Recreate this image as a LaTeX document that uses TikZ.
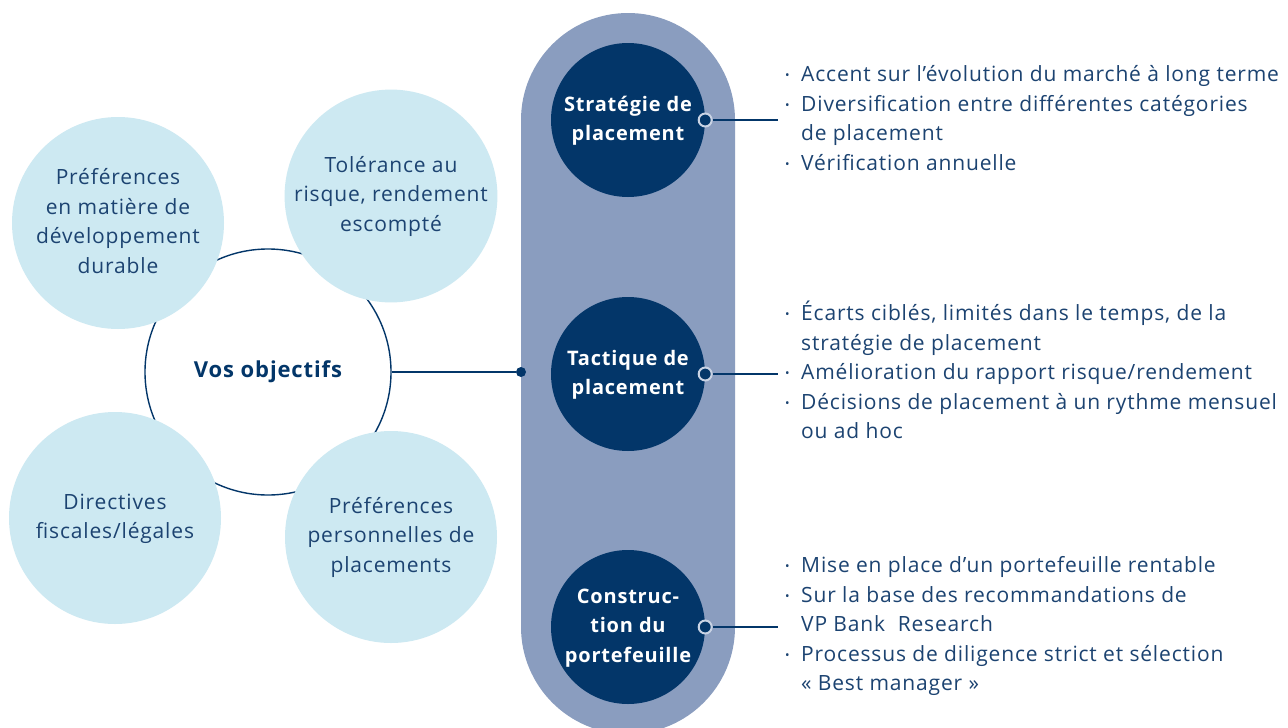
\documentclass[tikz,border=0pt]{standalone}
\usepackage{fontspec}
\setmainfont{Open Sans}[LetterSpace=4]
\definecolor{pill}{HTML}{8A9DBF}
\definecolor{dark}{HTML}{033669}
\definecolor{light}{HTML}{CDE9F2}
\definecolor{txt}{HTML}{1C4371}
\definecolor{ring}{HTML}{C9D3E4}
\newcommand\bl{\makebox[16pt][l]{\raisebox{2pt}{\fontsize{12}{12}\selectfont •}}}
\newcommand\ind{\hspace*{16pt}}
\begin{document}
\begin{tikzpicture}[x=1pt,y=-1pt,
  lightc/.style={circle,fill=light,minimum size=212pt,inner sep=0pt,align=center,text=txt,font=\fontsize{21}{29.5}\selectfont},
  darkc/.style={circle,fill=dark,minimum size=154pt,inner sep=0pt,align=center,text=white,font=\fontsize{20}{29.5}\selectfont\bfseries},
  marker/.style={circle,fill=dark,draw=ring,line width=2pt,minimum size=13pt,inner sep=0pt},
  conn/.style={draw=dark,line width=1.4pt},
  bullets/.style={anchor=north west,align=left,inner sep=0pt,text=txt,font=\fontsize{21}{29.5}\selectfont}]
\useasboundingbox (0,0) rectangle (1288,728);
\fill[white] (0,0) rectangle (1288,728);
% pill
\fill[pill,rounded corners=107pt] (521,13) rectangle (735,734);
% central objective circle
\node[circle,draw=dark,line width=1.4pt,minimum size=246pt,inner sep=0pt,text=dark,font=\fontsize{22}{29.5}\selectfont\bfseries] (vos) at (268,372) {\strut Vos objectifs\strut};
% light circles
\node[lightc] (c1) at (118,223) {\strut Préférences\\en matière de\\développement\\durable\strut};
\node[lightc] (c2) at (391,196) {\strut Tolérance au\\risque, rendement\\escompté\strut};
\node[lightc] (c3) at (115,518) {\strut Directives\\fiscales/légales\strut};
\node[lightc] (c4) at (391,537) {\strut Préférences\\personnelles de\\placements\strut};
% dark circles
\node[darkc] (s1) at (628,120) {\strut Stratégie de\\placement\strut};
\node[darkc] (s2) at (628,374) {\strut Tactique de\\placement\strut};
\node[darkc] (s3) at (628,627) {\strut Construc-\\tion du\\portefeuille\strut};
% left connector
\node[circle,fill=dark,minimum size=10pt,inner sep=0pt] (d0) at (521,372) {};
\draw[conn] (vos.east) -- (d0);
% markers and right connectors
\node[marker] (m1) at (s1.east) {};
\node[marker] (m2) at (s2.east) {};
\node[marker] (m3) at (s3.east) {};
\coordinate (e1) at (778,120);
\coordinate (e2) at (778,374);
\coordinate (e3) at (778,627);
\draw[conn] (m1) -- (e1);
\draw[conn] (m2) -- (e2);
\draw[conn] (m3) -- (e3);
% bullet texts
\node[bullets] (t1) at (785,61) {\bl\rule{0pt}{20.65pt}Accent sur l’évolution du marché à long terme\\\bl Diversification entre différentes catégories\\\ind de placement\\\bl Vérification annuelle};
\node[bullets] (t2) at (785,300) {\bl\rule{0pt}{20.65pt}Écarts ciblés, limités dans le temps, de la\\\ind stratégie de placement\\\bl Amélioration du rapport risque/rendement\\\bl Décisions de placement à un rythme mensuel\\\ind ou ad hoc};
\node[bullets] (t3) at (785,552) {\bl\rule{0pt}{20.65pt}Mise en place d’un portefeuille rentable\\\bl Sur la base des recommandations de\\\ind VP Bank~~Research\\\bl Processus de diligence strict et sélection\\\ind «~Best manager~»};
\end{tikzpicture}
\end{document}
